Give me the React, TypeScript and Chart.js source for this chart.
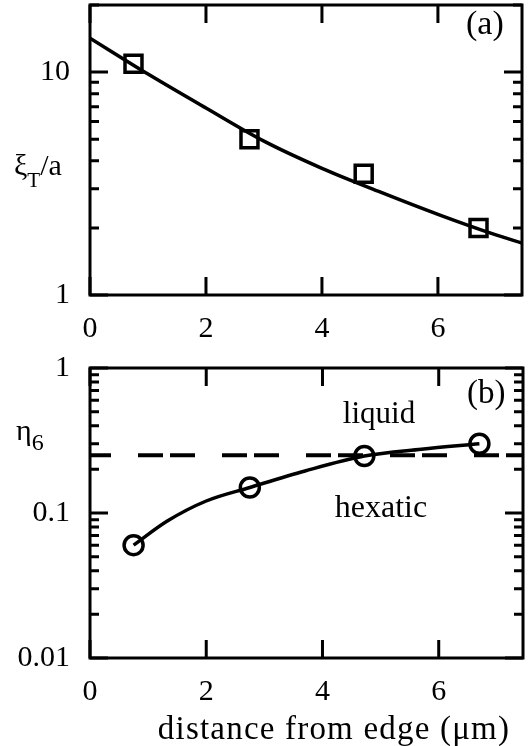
import React, { useEffect, useRef } from "react";
import { Chart, registerables } from "chart.js";

Chart.register(...registerables);

// ---- data ----
const xTickValues = [0, 2, 4, 6];
const xMin = 0;
const xMax = 7.45;

const xiTickValues = [1, 10];
const xiMin = 1;
const xiMax = 20;
const xiX = [0.75, 2.75, 4.72, 6.7];
const xiY = [10.9, 5.0, 3.5, 2.0];
const xiFitX = [0, 1, 2, 3, 4, 5, 6, 7, 7.45];
const xiFitY = [14.2, 9.8, 6.9, 4.9, 3.7, 2.9, 2.3, 1.86, 1.71];

const etaTickValues = [0.01, 0.1, 1];
const etaMin = 0.01;
const etaMax = 1;
const etaX = [0.75, 2.75, 4.72, 6.7];
const etaY = [0.06, 0.15, 0.247, 0.3];
const etaFitX = [0.75, 1.33, 2.0, 2.75, 3.7, 4.72, 5.7, 6.7];
const etaFitY = [0.06, 0.088, 0.121, 0.15, 0.195, 0.247, 0.275, 0.3];
const transitionX = [0, 7.45];
const transitionY = [0.25, 0.25];

const FONT = "'Liberation Serif', 'Times New Roman', serif";

const pts = (xs: number[], ys: number[]) => xs.map((x, i) => ({ x, y: ys[i] }));

type TextItem = {
  parts: { t: string; size: number; dy?: number }[];
  x: number;
  y: number;
  align?: string;
  spacing?: number;
};

const framePlugin = {
  id: "frame",
  afterDatasetsDraw(chart: any, _args: any, opts: any) {
    const { ctx, chartArea: a } = chart;
    const xs = chart.scales.x;
    const ys = chart.scales.y;
    ctx.save();
    ctx.strokeStyle = "#000";
    ctx.lineWidth = 3;
    ctx.lineCap = "butt";
    ctx.strokeRect(a.left, a.top, a.right - a.left, a.bottom - a.top);
    ctx.beginPath();
    for (const v of xTickValues) {
      const px = xs.getPixelForValue(v);
      ctx.moveTo(px, a.top);
      ctx.lineTo(px, a.top + 18);
      ctx.moveTo(px, a.bottom);
      ctx.lineTo(px, a.bottom - 18);
    }
    const e0 = Math.floor(Math.log10(ys.min) + 1e-9);
    const e1 = Math.ceil(Math.log10(ys.max) - 1e-9);
    for (let e = e0; e <= e1; e++) {
      for (let m = 1; m <= 9; m++) {
        const v = m * Math.pow(10, e);
        if (v < ys.min * 0.999 || v > ys.max * 1.001) continue;
        const len = m === 1 ? 18 : 9;
        const py = ys.getPixelForValue(v);
        ctx.moveTo(a.left, py);
        ctx.lineTo(a.left + len, py);
        ctx.moveTo(a.right, py);
        ctx.lineTo(a.right - len, py);
      }
    }
    ctx.stroke();
    ctx.fillStyle = "#000";
    ctx.textBaseline = "alphabetic";
    for (const item of (opts.texts || []) as TextItem[]) {
      (ctx as any).letterSpacing = `${item.spacing || 0}px`;
      let total = 0;
      for (const p of item.parts) {
        ctx.font = `${p.size}px ${FONT}`;
        total += ctx.measureText(p.t).width;
      }
      let cx = item.align === "center" ? item.x - total / 2 : item.x;
      for (const p of item.parts) {
        ctx.font = `${p.size}px ${FONT}`;
        ctx.textAlign = "left";
        ctx.fillText(p.t, cx, item.y + (p.dy || 0));
        cx += ctx.measureText(p.t).width;
      }
    }
    (ctx as any).letterSpacing = "0px";
    ctx.restore();
  },
};

function makeOptions(
  yMin: number,
  yMax: number,
  yTicks: number[],
  padTop: number,
  padRight: number,
  xHeight: number,
  texts: TextItem[]
): any {
  return {
    animation: false,
    responsive: false,
    maintainAspectRatio: false,
    layout: { autoPadding: false, padding: { top: padTop, right: padRight, left: 0, bottom: 0 } },
    plugins: {
      legend: { display: false },
      tooltip: { enabled: false },
      frame: { texts },
    },
    scales: {
      x: {
        type: "linear",
        min: xMin,
        max: xMax,
        grid: { display: false, drawTicks: false },
        border: { display: false },
        afterBuildTicks: (s: any) => {
          s.ticks = xTickValues.map((value) => ({ value }));
        },
        afterFit: (s: any) => {
          s.height = xHeight;
          s.paddingLeft = 0;
          s.paddingRight = 0;
        },
        ticks: {
          padding: 16,
          color: "#000",
          font: { family: FONT, size: 30 },
          callback: (v: any) => String(v),
          maxRotation: 0,
          autoSkip: false,
        },
      },
      y: {
        type: "logarithmic",
        min: yMin,
        max: yMax,
        grid: { display: false, drawTicks: false },
        border: { display: false },
        afterBuildTicks: (s: any) => {
          s.ticks = yTicks.map((value) => ({ value }));
        },
        afterFit: (s: any) => {
          s.width = 90;
          s.paddingTop = 0;
          s.paddingBottom = 0;
        },
        ticks: {
          padding: 20,
          color: "#000",
          font: { family: FONT, size: 30 },
          callback: (v: any) => String(v),
          autoSkip: false,
        },
      },
    },
  };
}

export default function App() {
  const topRef = useRef<HTMLCanvasElement>(null);
  const botRef = useRef<HTMLCanvasElement>(null);

  useEffect(() => {
    const top = new Chart(topRef.current!, {
      type: "line",
      data: {
        datasets: [
          {
            data: pts(xiFitX, xiFitY),
            borderColor: "#000",
            borderWidth: 3.5,
            pointRadius: 0,
            tension: 0.4,
            cubicInterpolationMode: "monotone",
            fill: false,
          },
          {
            data: pts(xiX, xiY),
            showLine: false,
            pointStyle: "rect",
            pointRadius: 12,
            pointBorderWidth: 3.5,
            pointBorderColor: "#000",
            pointBackgroundColor: "rgba(0,0,0,0)",
          },
        ],
      } as any,
      options: makeOptions(xiMin, xiMax, xiTickValues, 5, 10, 55, [
        {
          parts: [
            { t: "ξ", size: 30 },
            { t: "T", size: 21, dy: 12 },
            { t: "/a", size: 30 },
          ],
          x: 14,
          y: 175,
        },
        { parts: [{ t: "(a)", size: 34 }], x: 466, y: 34 },
      ]),
      plugins: [framePlugin],
    });

    const bot = new Chart(botRef.current!, {
      type: "line",
      data: {
        datasets: [
          {
            data: pts(transitionX, transitionY),
            borderColor: "#000",
            borderWidth: 4,
            borderDash: [25, 7, 25, 27],
            borderDashOffset: 36,
            pointRadius: 0,
            fill: false,
          },
          {
            data: pts(etaFitX, etaFitY),
            borderColor: "#000",
            borderWidth: 3.5,
            pointRadius: 0,
            tension: 0.4,
            cubicInterpolationMode: "monotone",
            fill: false,
          },
          {
            data: pts(etaX, etaY),
            showLine: false,
            pointStyle: "circle",
            pointRadius: 9.5,
            pointBorderWidth: 3.5,
            pointBorderColor: "#000",
            pointBackgroundColor: "rgba(0,0,0,0)",
          },
        ],
      } as any,
      options: makeOptions(etaMin, etaMax, etaTickValues, 18, 9, 88, [
        {
          parts: [
            { t: "η", size: 30 },
            { t: "6", size: 24, dy: 10 },
          ],
          x: 16,
          y: 90,
        },
        { parts: [{ t: "(b)", size: 33 }], x: 467, y: 53 },
        { parts: [{ t: "liquid", size: 31 }], x: 379, y: 73, align: "center" },
        { parts: [{ t: "hexatic", size: 32 }], x: 381, y: 167, align: "center" },
        { parts: [{ t: "distance from edge (μm)", size: 33 }], x: 334, y: 389, align: "center", spacing: 1.2 },
      ]),
      plugins: [framePlugin],
    });

    return () => {
      top.destroy();
      bot.destroy();
    };
  }, []);

  return (
    <div style={{ position: "absolute", left: 0, top: 0, width: 532, height: 746, background: "#fff" }}>
      <canvas ref={topRef} width={532} height={350} style={{ position: "absolute", left: 0, top: 0, width: 532, height: 350 }} />
      <canvas ref={botRef} width={532} height={396} style={{ position: "absolute", left: 0, top: 350, width: 532, height: 396 }} />
    </div>
  );
}
